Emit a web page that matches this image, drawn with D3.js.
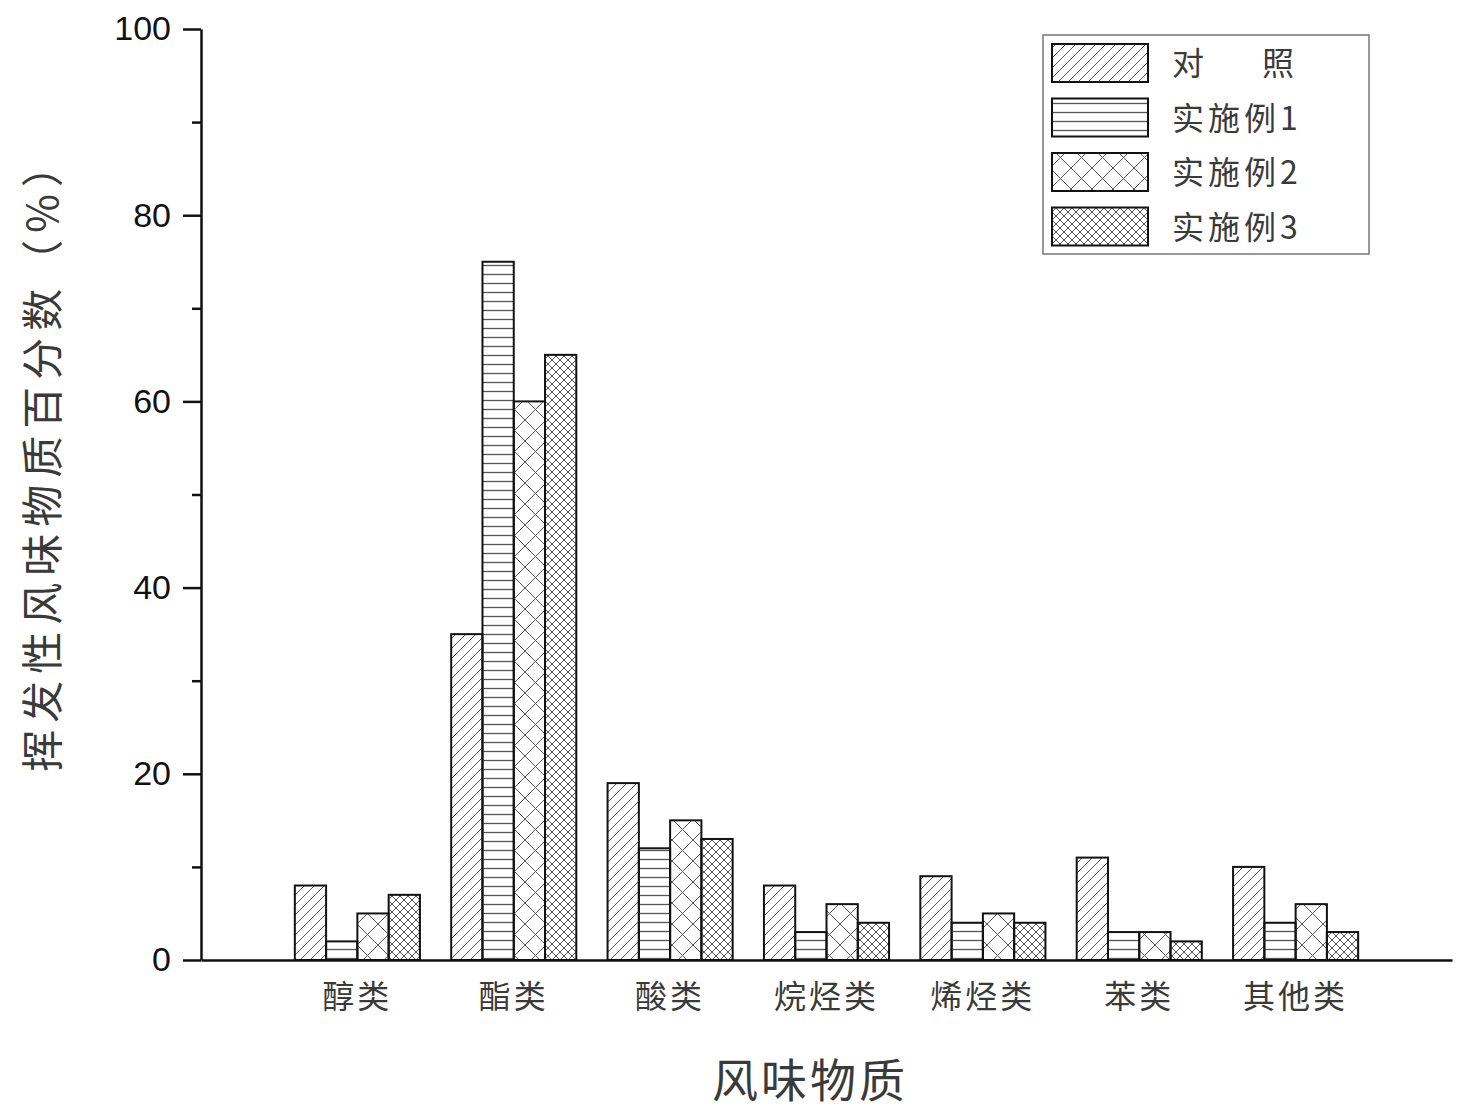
<!DOCTYPE html>
<html>
<head>
    <meta charset="utf-8">
    <title>挥发性风味物质</title>
    <script src="https://d3js.org/d3.v7.min.js"></script>
    <style>
        body { margin: 0; background: #fff; }
        .cjk { font-family: "Noto Sans CJK SC", sans-serif; fill: #3a3a3a; }
        .num { font-family: "Liberation Sans", Arial, sans-serif; fill: #111; }
    </style>
</head>
<body>
<svg id="chart" width="1467" height="1116"></svg>
<script>
    // data
    const categories = ["醇类", "酯类", "酸类", "烷烃类", "烯烃类", "苯类", "其他类"]
    const seriesNames = ["对照", "实施例1", "实施例2", "实施例3"]
    const control = [8, 35, 19, 8, 9, 11, 10]
    const example1 = [2, 75, 12, 3, 4, 3, 4]
    const example2 = [5, 60, 15, 6, 5, 3, 6]
    const example3 = [7, 65, 13, 4, 4, 2, 3]
    const yTicks = [0, 20, 40, 60, 80, 100]
    const yMinor = [10, 30, 50, 70, 90]

    const series = [control, example1, example2, example3]
    const patternIds = ["p-diag", "p-horiz", "p-cross", "p-fine"]

    const svg = d3.select("#chart")
    const x0 = 201, x1 = 1452, yTop = 29, yBottom = 960

    // patterns
    const defs = svg.append("defs")
    const line = "#555"

    let p = defs.append("pattern").attr("id", "p-diag")
        .attr("patternUnits", "userSpaceOnUse").attr("width", 10).attr("height", 10)
    p.append("path").attr("d", "M-2,12 L12,-2 M-2,2 L2,-2 M8,12 L12,8")
        .attr("stroke", line).attr("stroke-width", 1)

    p = defs.append("pattern").attr("id", "p-horiz")
        .attr("patternUnits", "userSpaceOnUse").attr("width", 10).attr("height", 9)
    p.append("path").attr("d", "M0,4.5 L10,4.5")
        .attr("stroke", line).attr("stroke-width", 1.3)

    p = defs.append("pattern").attr("id", "p-cross")
        .attr("patternUnits", "userSpaceOnUse").attr("width", 21).attr("height", 21)
    p.append("path").attr("d", "M0,0 L21,21 M21,0 L0,21")
        .attr("stroke", line).attr("stroke-width", 1)

    p = defs.append("pattern").attr("id", "p-fine")
        .attr("patternUnits", "userSpaceOnUse").attr("width", 8).attr("height", 8)
    p.append("path").attr("d", "M0,0 L8,8 M8,0 L0,8")
        .attr("stroke", line).attr("stroke-width", 1)

    const xScale = d3.scaleLinear().domain([0, categories.length + 1]).range([x0, x1])
    const yScale = d3.scaleLinear().domain([0, 100]).range([yBottom, yTop])
    const step = xScale(1) - xScale(0)
    const barW = step * 0.2

    // bars
    const g = svg.append("g")
    series.forEach((vals, j) => {
        g.selectAll(".s" + j)
            .data(vals)
            .enter()
            .append("rect")
            .attr("x", (d, i) => xScale(i + 1) - 2 * barW + j * barW)
            .attr("y", d => yScale(d))
            .attr("width", barW)
            .attr("height", d => yBottom - yScale(d))
            .attr("fill", `url(#${patternIds[j]})`)
            .attr("stroke", "#111")
            .attr("stroke-width", 2)
    })

    // y axis
    const yAxis = d3.axisLeft(yScale).tickValues(yTicks).tickSize(18).tickSizeOuter(0).tickPadding(12)
    const ya = svg.append("g").attr("transform", `translate(${x0},0)`).call(yAxis)
    ya.select(".domain").attr("stroke", "#111").attr("stroke-width", 2.5)
    ya.selectAll(".tick line").attr("stroke", "#111").attr("stroke-width", 2.5)
    ya.selectAll(".tick text").attr("class", "num").attr("font-size", 34)
    const yMinorAxis = d3.axisLeft(yScale).tickValues(yMinor).tickSize(9).tickFormat("")
    const ym = svg.append("g").attr("transform", `translate(${x0},0)`).call(yMinorAxis)
    ym.select(".domain").remove()
    ym.selectAll(".tick line").attr("stroke", "#111").attr("stroke-width", 2.5)

    // x axis
    const xAxis = d3.axisBottom(xScale).tickValues([]).tickSizeOuter(0)
    const xa = svg.append("g").attr("transform", `translate(0,${yBottom})`).call(xAxis)
    xa.select(".domain").attr("stroke", "#111").attr("stroke-width", 2.5)

    svg.selectAll(".cat")
        .data(categories)
        .enter()
        .append("text")
        .attr("class", "cjk")
        .attr("x", (d, i) => xScale(i + 1))
        .attr("y", 1008)
        .attr("text-anchor", "middle")
        .attr("font-size", 32)
        .attr("letter-spacing", 3)
        .text(d => d)

    // axis titles
    svg.append("text")
        .attr("class", "cjk")
        .attr("transform", "translate(39,455) rotate(-90)")
        .attr("text-anchor", "middle")
        .attr("dominant-baseline", "central")
        .attr("font-size", 42)
        .attr("letter-spacing", 7)
        .text("挥发性风味物质百分数（%）")

    svg.append("text")
        .attr("class", "cjk")
        .attr("x", 810)
        .attr("y", 1097)
        .attr("text-anchor", "middle")
        .attr("font-size", 46)
        .attr("letter-spacing", 3)
        .text("风味物质")

    // legend
    const lg = svg.append("g")
    lg.append("rect")
        .attr("x", 1043).attr("y", 35).attr("width", 326).attr("height", 219)
        .attr("fill", "#fff").attr("stroke", "#777").attr("stroke-width", 1.5)
    seriesNames.forEach((name, j) => {
        const ry = 44 + j * 54.5
        lg.append("rect")
            .attr("x", 1052).attr("y", ry).attr("width", 96).attr("height", 38)
            .attr("fill", `url(#${patternIds[j]})`)
            .attr("stroke", "#111").attr("stroke-width", 2)
        const t = lg.append("text")
            .attr("class", "cjk")
            .attr("x", 1172).attr("y", ry + 31)
            .attr("font-size", 32)
            .attr("letter-spacing", 4)
        if (j === 0) {
            t.append("tspan").text(name[0])
            t.append("tspan").attr("x", 1262).text(name[1])
        } else {
            t.text(name)
        }
    })
</script>
</body>
</html>
